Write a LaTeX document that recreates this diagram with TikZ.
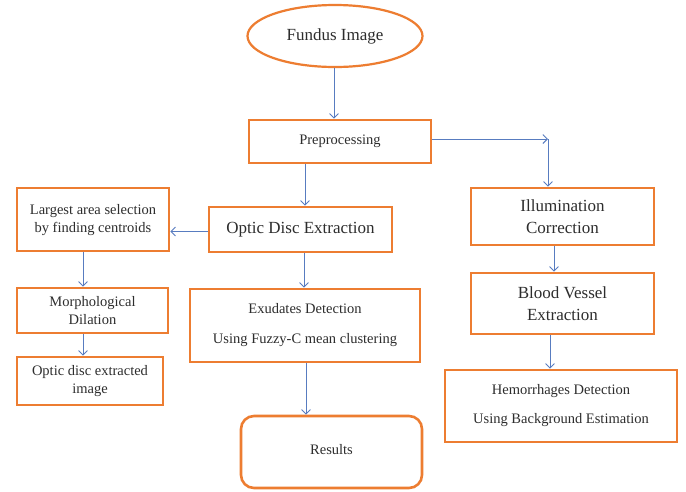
\documentclass[tikz,border=0pt]{standalone}
\usepackage{fontspec}
\setmainfont{Liberation Serif}
\usetikzlibrary{arrows.meta,shapes.geometric}
\definecolor{boxorange}{RGB}{237,125,49}
\definecolor{linkblue}{RGB}{88,124,192}
\definecolor{txtgray}{RGB}{45,45,45}
\begin{document}
\begin{tikzpicture}[x=1pt,y=-1pt,
  box/.style={draw=boxorange, line width=2.6pt, fill=white, text=txtgray,
    align=center, inner sep=0pt},
  big/.style={font=\fontsize{17}{22}\selectfont},
  small/.style={font=\fontsize{14.5}{18}\selectfont},
  arr/.style={draw=linkblue, line width=0.9pt,
    -{Straight Barb[length=4.5pt,width=9pt]}}]
\useasboundingbox (0,0) rectangle (686,491);
\fill[white] (0,0) rectangle (686,491);

% start
\node[ellipse, draw=boxorange, line width=2.2pt, text=txtgray, big,
  minimum width=175, minimum height=62, inner sep=0pt] (fundus) at (335,36) {Fundus Image};

% main column
\node[box, small, minimum width=182, minimum height=43] (pre) at (340,141.5) {Preprocessing};
\node[box, big, minimum width=183, minimum height=45] (optic) at (300.5,229.5) {Optic Disc Extraction};
\node[box, small, minimum width=230, minimum height=73] (exu) at (305,325.5)
  {Exudates Detection\\[12pt]Using Fuzzy-C mean clustering};
\node[box, small, rounded corners=13pt, minimum width=181, minimum height=72] (res) at (331.5,452)
  {\raisebox{5pt}{Results}};

% optic disc branch
\node[box, small, minimum width=152, minimum height=63] (largest) at (93,219.5)
  {\raisebox{2pt}{\begin{tabular}{@{}c@{}}Largest area selection\\by finding centroids\end{tabular}}};
\node[box, small, minimum width=151, minimum height=45] (morph) at (92.5,310.5)
  {Morphological\\Dilation};
\node[box, small, minimum width=146, minimum height=48] (odimg) at (90,381)
  {Optic disc extracted\\image};

% vessel branch
\node[box, big, minimum width=183, minimum height=57] (illum) at (562.5,216.5)
  {Illumination\\Correction};
\node[box, big, minimum width=183, minimum height=61] (blood) at (562.5,303.5)
  {Blood Vessel\\Extraction};
\node[box, small, minimum width=232, minimum height=72] (hem) at (561,406)
  {Hemorrhages Detection\\[11pt]Using Background Estimation};

% guide coordinates for connector columns
\coordinate (turn) at (548,139);
\coordinate (gmain) at (305,0);
\coordinate (gleft) at (83,0);

% connectors
\draw[arr] ([xshift=-1pt]fundus.south) -- ([xshift=-1pt]fundus.south |- pre.north);
\draw[arr] (pre.south -| gmain) -- (optic.north -| gmain);
\draw[arr] (pre.east |- turn) -- (turn);
\draw[arr] (turn) -- (turn |- illum.north);
\draw[arr] ([xshift=-8.5pt]illum.south) -- ([xshift=-8.5pt]illum.south |- blood.north);
\draw[arr] ([xshift=-12.5pt]blood.south) -- ([xshift=-12.5pt]blood.south |- hem.north);
\draw[arr] ([yshift=-2pt]optic.west) -- ([yshift=-2pt]optic.west -| largest.east);
\draw[arr] (largest.south -| gleft) -- (morph.north -| gleft);
\draw[arr] (morph.south -| gleft) -- (odimg.north -| gleft);
\draw[arr] ([xshift=3.5pt]optic.south) -- ([xshift=3.5pt]optic.south |- exu.north);
\draw[arr] ([xshift=1pt]exu.south) -- ([xshift=1pt]exu.south |- res.north);
\end{tikzpicture}
\end{document}
